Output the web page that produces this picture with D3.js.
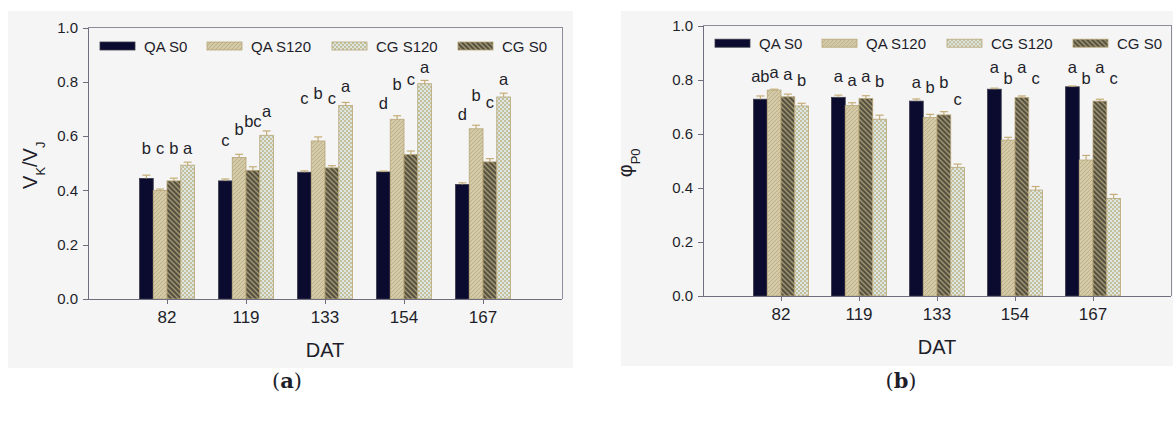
<!DOCTYPE html>
<html lang="en">
<head>
<meta charset="utf-8">
<title>VK/VJ and phiP0 by DAT</title>
<script src="https://cdn.jsdelivr.net/npm/d3@7"></script>
<style>
  body { margin: 0; background: #fff; }
  text { font-family: "Liberation Sans", Arial, sans-serif; fill: #1e1e2a; }
  .axis path, .axis line { stroke: #6e6e7e; shape-rendering: crispEdges; }
  .frame { fill: none; stroke: #8c8c9c; shape-rendering: crispEdges; }
</style>
</head>
<body>
<script>
// categories (days after transplanting)
var dat = ["82", "119", "133", "154", "167"];
// bar order inside a group and legend order
var barSeries = ["QA S0", "QA S120", "CG S0", "CG S120"];
var legendSeries = ["QA S0", "QA S120", "CG S120", "CG S0"];
var yTicks = [0, 0.2, 0.4, 0.6, 0.8, 1.0];

// panel a: VK/VJ
var vkQAS0   = [0.444, 0.435, 0.467, 0.468, 0.422];
var vkQAS120 = [0.400, 0.521, 0.582, 0.662, 0.627];
var vkCGS0   = [0.435, 0.474, 0.483, 0.532, 0.505];
var vkCGS120 = [0.493, 0.603, 0.713, 0.793, 0.744];
var vkErrQAS0   = [0.012, 0.007, 0.005, 0.003, 0.006];
var vkErrQAS120 = [0.005, 0.012, 0.015, 0.013, 0.013];
var vkErrCGS0   = [0.010, 0.013, 0.008, 0.013, 0.012];
var vkErrCGS120 = [0.011, 0.016, 0.011, 0.012, 0.014];
var vkLetters = [["b", "c", "b", "a"], ["c", "b", "bc", "a"], ["c", "b", "c", "a"], ["d", "b", "c", "a"], ["d", "b", "c", "a"]];
var vkLetterAt = [[0.533, 0.533, 0.533, 0.533], [0.564, 0.603, 0.633, 0.669], [0.719, 0.738, 0.719, 0.762], [0.701, 0.768, 0.787, 0.832], [0.658, 0.728, 0.705, 0.787]];

// panel b: phiP0
var phQAS0   = [0.728, 0.735, 0.721, 0.765, 0.774];
var phQAS120 = [0.762, 0.705, 0.660, 0.577, 0.503];
var phCGS0   = [0.737, 0.731, 0.670, 0.734, 0.721];
var phCGS120 = [0.703, 0.654, 0.476, 0.392, 0.361];
var phErrQAS0   = [0.012, 0.008, 0.008, 0.004, 0.003];
var phErrQAS120 = [0.003, 0.010, 0.012, 0.010, 0.017];
var phErrCGS0   = [0.010, 0.010, 0.012, 0.006, 0.007];
var phErrCGS120 = [0.010, 0.015, 0.012, 0.013, 0.015];
var phLetters = [["ab", "a", "a", "b"], ["a", "a", "a", "b"], ["a", "b", "b", "c"], ["a", "b", "a", "c"], ["a", "b", "a", "c"]];
var phLetterAt = [[0.793, 0.805, 0.800, 0.777], [0.793, 0.777, 0.793, 0.774], [0.768, 0.750, 0.768, 0.707], [0.824, 0.784, 0.824, 0.784], [0.824, 0.784, 0.824, 0.784]];

var fills = {
  "QA S0": "#0b0b30",
  "QA S120": "url(#pTan)",
  "CG S0": "url(#pDark)",
  "CG S120": "url(#pCross)"
};

var svg = d3.select("body").append("svg")
  .attr("width", 1173)
  .attr("height", 423);

var defs = svg.append("defs");

var p1 = defs.append("pattern").attr("id", "pTan")
  .attr("patternUnits", "userSpaceOnUse").attr("width", 4).attr("height", 4);
p1.append("rect").attr("width", 4).attr("height", 4).attr("fill", "#d4caa8");
p1.append("path").attr("d", "M-1,1 l2,-2 M0,4 l4,-4 M3,5 l2,-2")
  .attr("stroke", "#bcb089").attr("stroke-width", 1);

var p2 = defs.append("pattern").attr("id", "pDark")
  .attr("patternUnits", "userSpaceOnUse").attr("width", 5).attr("height", 5);
p2.append("rect").attr("width", 5).attr("height", 5).attr("fill", "#57523f");
p2.append("path").attr("d", "M0,0 l5,5 M-1,4 l2,2 M4,-1 l2,2")
  .attr("stroke", "#a09674").attr("stroke-width", 1.4);

var p3 = defs.append("pattern").attr("id", "pCross")
  .attr("patternUnits", "userSpaceOnUse").attr("width", 4).attr("height", 4);
p3.append("rect").attr("width", 4).attr("height", 4).attr("fill", "#dce6e2");
p3.append("rect").attr("width", 2).attr("height", 2).attr("fill", "#c6bf9c");
p3.append("rect").attr("x", 2).attr("y", 2).attr("width", 2).attr("height", 2).attr("fill", "#c6bf9c");

function panel(opt) {
  var g = svg.append("g");

  g.append("rect")
    .attr("x", opt.bg[0]).attr("y", opt.bg[1])
    .attr("width", opt.bg[2]).attr("height", opt.bg[3])
    .attr("fill", "#f5f5f5");

  var x = d3.scaleBand().domain(dat)
    .range([opt.x0, opt.x1]).paddingInner(0).paddingOuter(0.5);
  var xs = d3.scaleBand().domain(barSeries).range([-27.5, 27.5]);
  var y = d3.scaleLinear().domain([0, 1]).range([opt.y0, opt.y1]);

  // frame top/right
  g.append("path").attr("class", "frame")
    .attr("d", "M" + opt.x0 + "," + opt.y1 + "H" + opt.x1 + "V" + opt.y0);

  var rows = dat.map(function(d, i) {
    return barSeries.map(function(s, j) {
      return {
        cat: d, s: s,
        v: opt.vals[j][i], e: opt.errs[j][i],
        letter: opt.letters[i][j], ly: opt.letterAt[i][j]
      };
    });
  });
  var flat = d3.merge(rows);

  g.selectAll(".bar").data(flat).enter().append("rect")
    .attr("class", "bar")
    .attr("x", function(d) { return x(d.cat) + x.bandwidth() / 2 + xs(d.s); })
    .attr("y", function(d) { return y(d.v); })
    .attr("width", xs.bandwidth())
    .attr("height", function(d) { return y(0) - y(d.v); })
    .attr("fill", function(d) { return fills[d.s]; })
    .attr("stroke", function(d) { return d.s == "QA S0" ? "#3a3a4a" : "#b7a677"; })
    .attr("stroke-width", 0.8);

  var eb = g.selectAll(".err").data(flat).enter().append("g")
    .attr("class", "err")
    .attr("transform", function(d) {
      return "translate(" + (x(d.cat) + x.bandwidth() / 2 + xs(d.s) + xs.bandwidth() / 2) + ",0)";
    });
  eb.append("line")
    .attr("y1", function(d) { return y(d.v); })
    .attr("y2", function(d) { return y(d.v + d.e); })
    .attr("stroke", "#c4ad78").attr("stroke-width", 1.2);
  eb.append("line")
    .attr("x1", -4).attr("x2", 4)
    .attr("y1", function(d) { return y(d.v + d.e); })
    .attr("y2", function(d) { return y(d.v + d.e); })
    .attr("stroke", "#c4ad78").attr("stroke-width", 1.2);

  g.selectAll(".letter").data(flat).enter().append("text")
    .attr("class", "letter")
    .attr("x", function(d) { return x(d.cat) + x.bandwidth() / 2 + xs(d.s) + xs.bandwidth() / 2; })
    .attr("y", function(d) { return y(d.ly); })
    .attr("text-anchor", "middle")
    .style("font-size", "16.5px")
    .text(function(d) { return d.letter; });

  var xAxis = g.append("g").attr("class", "axis")
    .attr("transform", "translate(0," + opt.y0 + ")")
    .call(d3.axisBottom(x).tickSizeOuter(0).tickSize(5).tickPadding(7));
  xAxis.select(".domain").attr("d", "M" + opt.x0 + ",0H" + opt.x1);
  xAxis.selectAll("text").style("font-size", "17px").attr("fill", "#1e1e2a");

  var yAxis = g.append("g").attr("class", "axis")
    .attr("transform", "translate(" + opt.x0 + ",0)")
    .call(d3.axisLeft(y).tickValues(yTicks).tickFormat(d3.format(".1f"))
      .tickSizeOuter(0).tickSize(5).tickPadding(5));
  yAxis.selectAll("text").style("font-size", "15px").attr("fill", "#1e1e2a");

  g.append("text")
    .attr("x", (opt.x0 + opt.x1) / 2)
    .attr("y", opt.y0 + 58)
    .attr("text-anchor", "middle")
    .style("font-size", "20px")
    .text("DAT");

  var yl = g.append("text")
    .attr("transform", "translate(" + opt.ylx + "," + ((opt.y0 + opt.y1) / 2 + 2) + ") rotate(-90)")
    .attr("text-anchor", "middle")
    .style("font-size", "20px");
  opt.ylabel(yl);

  var legOff = [12, 119, 244, 370];
  var leg = g.selectAll(".leg").data(legendSeries).enter().append("g")
    .attr("class", "leg")
    .attr("transform", function(d, i) {
      return "translate(" + (opt.x0 + legOff[i]) + "," + (opt.y1 + opt.legDy) + ")";
    });
  leg.append("rect")
    .attr("y", -4).attr("width", 35).attr("height", 8)
    .attr("fill", function(d) { return fills[d]; })
    .attr("stroke", function(d) { return d == "QA S0" ? "#3a3a4a" : "#b7a677"; })
    .attr("stroke-width", 0.8);
  leg.append("text")
    .attr("x", 44).attr("y", 5.5)
    .style("font-size", "15px")
    .text(function(d) { return d; });

  svg.append("text")
    .attr("x", opt.capX).attr("y", 388)
    .attr("text-anchor", "middle")
    .style("font-family", "'DejaVu Serif', 'Liberation Serif', serif")
    .style("font-size", "21px")
    .html("(<tspan font-weight='bold'>" + opt.cap + "</tspan>)");
}

panel({
  bg: [8, 11, 565, 357],
  x0: 88, x1: 562, y0: 299, y1: 27.5,
  vals: [vkQAS0, vkQAS120, vkCGS0, vkCGS120],
  errs: [vkErrQAS0, vkErrQAS120, vkErrCGS0, vkErrCGS120],
  letters: vkLetters, letterAt: vkLetterAt,
  legDy: 18.5, ylx: 37, capX: 287, cap: "a",
  ylabel: function(t) {
    t.append("tspan").text("V");
    t.append("tspan").attr("baseline-shift", "sub").style("font-size", "13px").text("K");
    t.append("tspan").text("/V");
    t.append("tspan").attr("baseline-shift", "sub").style("font-size", "13px").text("J");
  }
});

panel({
  bg: [621, 11, 560, 355],
  x0: 703, x1: 1171, y0: 296, y1: 25.7,
  vals: [phQAS0, phQAS120, phCGS0, phCGS120],
  errs: [phErrQAS0, phErrQAS120, phErrCGS0, phErrCGS120],
  letters: phLetters, letterAt: phLetterAt,
  legDy: 17.5, ylx: 632, capX: 901, cap: "b",
  ylabel: function(t) {
    t.append("tspan").text("φ");
    t.append("tspan").attr("baseline-shift", "sub").style("font-size", "13px").text("P0");
  }
});
</script>
</body>
</html>
